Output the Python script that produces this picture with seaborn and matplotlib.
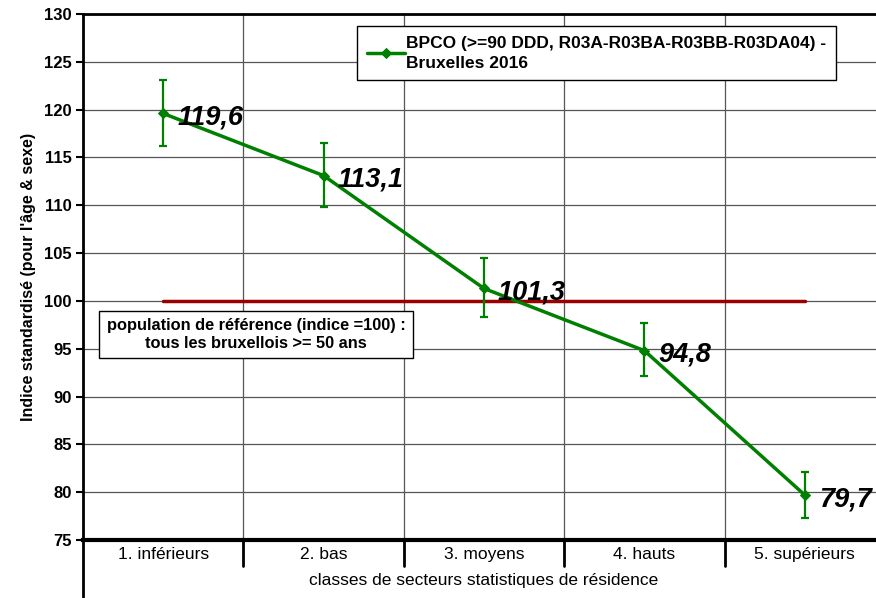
import numpy as np
import pandas as pd
import matplotlib
matplotlib.use('Agg')
import matplotlib.pyplot as plt
import seaborn as sns

categories = ['1. inférieurs', '2. bas', '3. moyens', '4. hauts', '5. supérieurs']
values = [119.6, 113.1, 101.3, 94.8, 79.7]
lower = [116.2, 109.8, 98.3, 92.1, 77.3]
upper = [123.1, 116.5, 104.5, 97.7, 82.1]
value_labels = ['119,6', '113,1', '101,3', '94,8', '79,7']
ref_value = 100
yticks = [75, 80, 85, 90, 95, 100, 105, 110, 115, 120, 125, 130]

sns.set_theme(style='white')
plt.rcParams['font.family'] = ['Liberation Sans', 'DejaVu Sans']
plt.rcParams['text.color'] = 'black'
plt.rcParams['axes.labelcolor'] = 'black'
plt.rcParams['xtick.color'] = 'black'
plt.rcParams['ytick.color'] = 'black'

df = pd.DataFrame({'pos': np.arange(len(categories)), 'indice': values})
green = '#008000'

fig = plt.figure(figsize=(8.76, 5.98), dpi=100)
ax = fig.add_axes([83 / 876, 58 / 598, 802 / 876, 526 / 598])

# grid
for yv in yticks:
    ax.axhline(yv, color='#555555', lw=0.9, zorder=0)
for xb in np.arange(len(categories) + 1) - 0.5:
    ax.axvline(xb, color='#555555', lw=0.9, zorder=0)

# reference line
ax.plot([0, len(categories) - 1], [ref_value, ref_value], color='#990000', lw=2.5, zorder=2)

err = [np.array(values) - np.array(lower), np.array(upper) - np.array(values)]
ax.errorbar(df['pos'], df['indice'], yerr=err, fmt='none', ecolor=green,
            elinewidth=1.6, capsize=3, capthick=1.6, zorder=3)
sns.lineplot(data=df, x='pos', y='indice', color=green, lw=2.5, marker='D',
             markersize=5, markeredgecolor=green, ax=ax, zorder=4,
             label='BPCO (>=90 DDD, R03A-R03BA-R03BB-R03DA04) -\nBruxelles 2016')

for p, v, lab in zip(df['pos'], values, value_labels):
    ax.annotate(lab, (p, v), xytext=(10, -3), textcoords='offset points',
                fontsize=19.5, fontweight='bold', fontstyle='italic', va='center', ha='left', zorder=5)

ax.set_xlim(-0.5, len(categories) - 0.5)
ax.set_ylim(75, 130)
ax.set_yticks(yticks)
ax.set_yticklabels([str(t) for t in yticks], fontsize=12, fontweight='bold')
ax.tick_params(axis='y', length=5, width=1.5, color='black', left=True, pad=3)
ax.set_xticks([])
ax.set_xlabel('')
ax.set_ylabel("Indice standardisé (pour l'âge & sexe)", fontsize=11.5, fontweight='bold', labelpad=6)

for s in ['top', 'bottom', 'left']:
    ax.spines[s].set_color('black')
ax.spines['top'].set_linewidth(2)
ax.spines['bottom'].set_linewidth(3)
ax.spines['left'].set_linewidth(2)
ax.spines['right'].set_visible(False)

# category table below axis
trans = ax.get_xaxis_transform()
for xb in np.arange(1, len(categories) + 1) - 0.5:
    ax.plot([xb, xb], [0, -0.05], transform=trans, color='black', lw=2, clip_on=False)
ax.plot([-0.5, -0.5], [0, -0.108], transform=trans, color='black', lw=2, clip_on=False)
for p, c in enumerate(categories):
    ax.text(p, -0.028, c, transform=trans, ha='center', va='center', fontsize=12.5)
ax.text(2, -0.077, 'classes de secteurs statistiques de résidence', transform=trans,
        ha='center', va='center', fontsize=12.5)

leg = ax.legend(loc='upper left', bbox_to_anchor=((357 - 83) / 802, (540 - 26) / 526),
                frameon=True, fancybox=False, framealpha=1, edgecolor='black',
                prop={'weight': 'bold', 'size': 12.5}, handlelength=2.2, handletextpad=0.1,
                borderpad=0.55, borderaxespad=0)
leg.get_frame().set_linewidth(1)
for t in leg.get_texts():
    t.set_linespacing(1.45)

ax.text(256 / 802 * 5 - 0.5 - 83 / 802 * 5, 96.5,
        'population de référence (indice =100) :\ntous les bruxellois >= 50 ans',
        ha='center', va='center', fontsize=11.8, fontweight='bold', linespacing=1.25, zorder=6,
        bbox=dict(boxstyle='square,pad=0.45', fc='white', ec='black', lw=1))

fig.savefig('out.png', dpi=100)
